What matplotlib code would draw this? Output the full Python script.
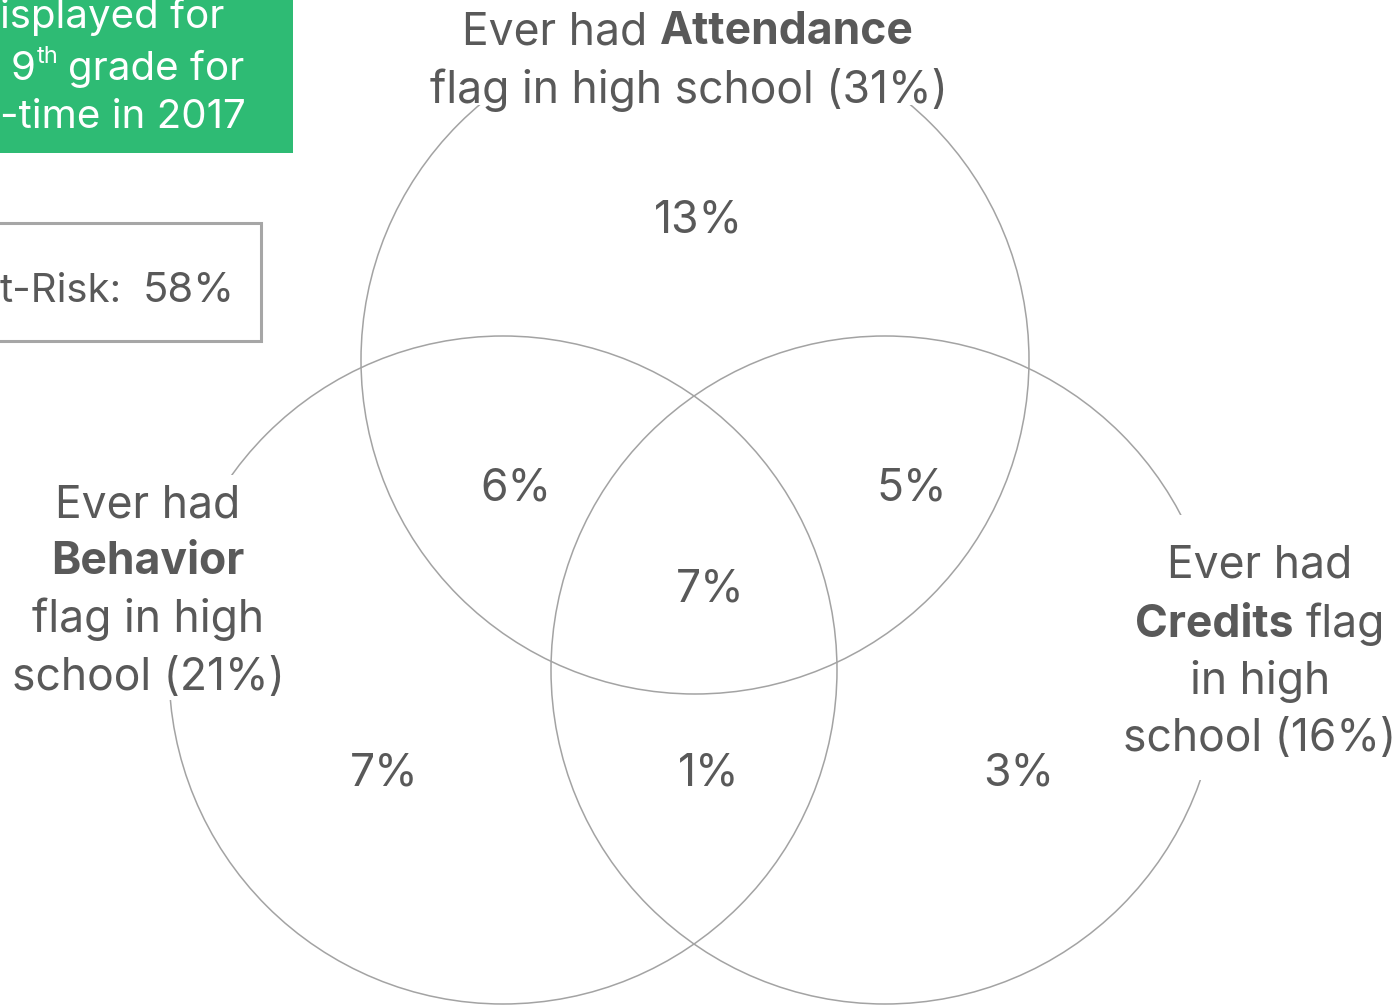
import matplotlib.pyplot as plt
from matplotlib.patches import Circle, Rectangle

plt.rcParams['font.family'] = ['Inter', 'DejaVu Sans']

# данные
set_names = ['Attendance', 'Behavior', 'Credits']
set_totals = [31, 21, 16]
region_keys = ['A', 'AB', 'AC', 'ABC', 'B', 'BC', 'C']
region_vals = [13, 6, 5, 7, 7, 1, 3]
at_risk = 58

GRAY = '#595959'
LINE = '#a3a3a3'
GREEN = '#2ebb74'
FS = 32
FS_BOX = 29

fig = plt.figure(figsize=(13.96, 10.06), dpi=100)
ax = fig.add_axes([0, 0, 1, 1])
ax.set_xlim(0, 1396)
ax.set_ylim(1006, 0)
ax.axis('off')
r = fig.canvas.get_renderer()


def width(s, **kw):
    t = ax.text(0, 0, s, fontsize=kw.get('size', FS), fontweight=kw.get('weight', 'normal'))
    w = t.get_window_extent(renderer=r).width
    t.remove()
    return w


def mixed_line(xc, yb, parts, size=FS, color=GRAY):
    # строка из кусков обычного и жирного текста, по центру xc
    sp = width('a a', size=size) - width('aa', size=size)
    items = []
    total = 0
    for i, (s, w) in enumerate(parts):
        t = ax.text(0, yb, s, fontsize=size, fontweight=w, color=color,
                    va='baseline', ha='left', zorder=5)
        ww = t.get_window_extent(renderer=r).width
        items.append((t, ww))
        total += ww
        if i < len(parts) - 1:
            total += sp
    x = xc - total / 2
    for t, ww in items:
        t.set_x(x)
        x += ww + sp


# круги
centers = [(695, 360), (503, 670), (885, 670)]
rad = 334
for c in centers:
    ax.add_patch(Circle(c, rad, fill=False, edgecolor=LINE, linewidth=1.1, zorder=1))

# белые подложки под подписи
for x0, y0, w, h in [(425, 0, 530, 105), (0, 475, 290, 225), (1120, 515, 276, 265)]:
    ax.add_patch(Rectangle((x0, y0), w, h, facecolor='white', edgecolor='none', zorder=2))

# подписи множеств
mixed_line(688, 44, [('Ever had', 'normal'), (set_names[0], 'bold')])
mixed_line(689, 103, [('flag in high school (%d%%)' % set_totals[0], 'normal')])

mixed_line(148, 517, [('Ever had', 'normal')])
mixed_line(148, 574, [(set_names[1], 'bold')])
mixed_line(148, 632, [('flag in high', 'normal')])
mixed_line(148, 690, [('school (%d%%)' % set_totals[1], 'normal')])

mixed_line(1260, 578, [('Ever had', 'normal')])
mixed_line(1260, 637, [(set_names[2], 'bold'), ('flag', 'normal')])
mixed_line(1260, 694, [('in high', 'normal')])
mixed_line(1260, 751, [('school (%d%%)' % set_totals[2], 'normal')])

# проценты по областям
pos = {'A': (699, 232), 'AB': (516, 500), 'AC': (912, 500), 'ABC': (710, 602),
       'B': (384, 786), 'BC': (709, 786), 'C': (1019, 786)}
for k, v in zip(region_keys, region_vals):
    x, y = pos[k]
    ax.text(x, y, '%d%%' % v, fontsize=FS, color=GRAY, ha='center', va='baseline', zorder=5)

# зелёный блок
ax.add_patch(Rectangle((-10, -10), 303, 163, facecolor=GREEN, edgecolor='none', zorder=3))
ax.text(0, 28, 'isplayed for', fontsize=FS_BOX, color='white', va='baseline', zorder=4)
t9 = ax.text(11, 80, '9', fontsize=FS_BOX, color='white', va='baseline', zorder=4)
w9 = t9.get_window_extent(renderer=r).width
tth = ax.text(11 + w9 + 1, 63, 'th', fontsize=17, color='white', va='baseline', zorder=4)
wth = tth.get_window_extent(renderer=r).width
ax.text(11 + w9 + wth + 10, 80, 'grade for', fontsize=FS_BOX, color='white', va='baseline', zorder=4)
ax.text(0, 128, '-time in 2017', fontsize=FS_BOX, color='white', va='baseline', zorder=4)

# серый блок
ax.add_patch(Rectangle((-10, 223), 271, 118, facecolor='white', edgecolor='#a6a6a6',
                       linewidth=2.2, zorder=3))
ax.text(0, 302, 't-Risk:', fontsize=FS_BOX, color=GRAY, va='baseline', zorder=4)
ax.text(235, 302, '%d%%' % at_risk, fontsize=FS_BOX + 1, color=GRAY, va='baseline', ha='right', zorder=4)

fig.savefig('out.png', dpi=100)
